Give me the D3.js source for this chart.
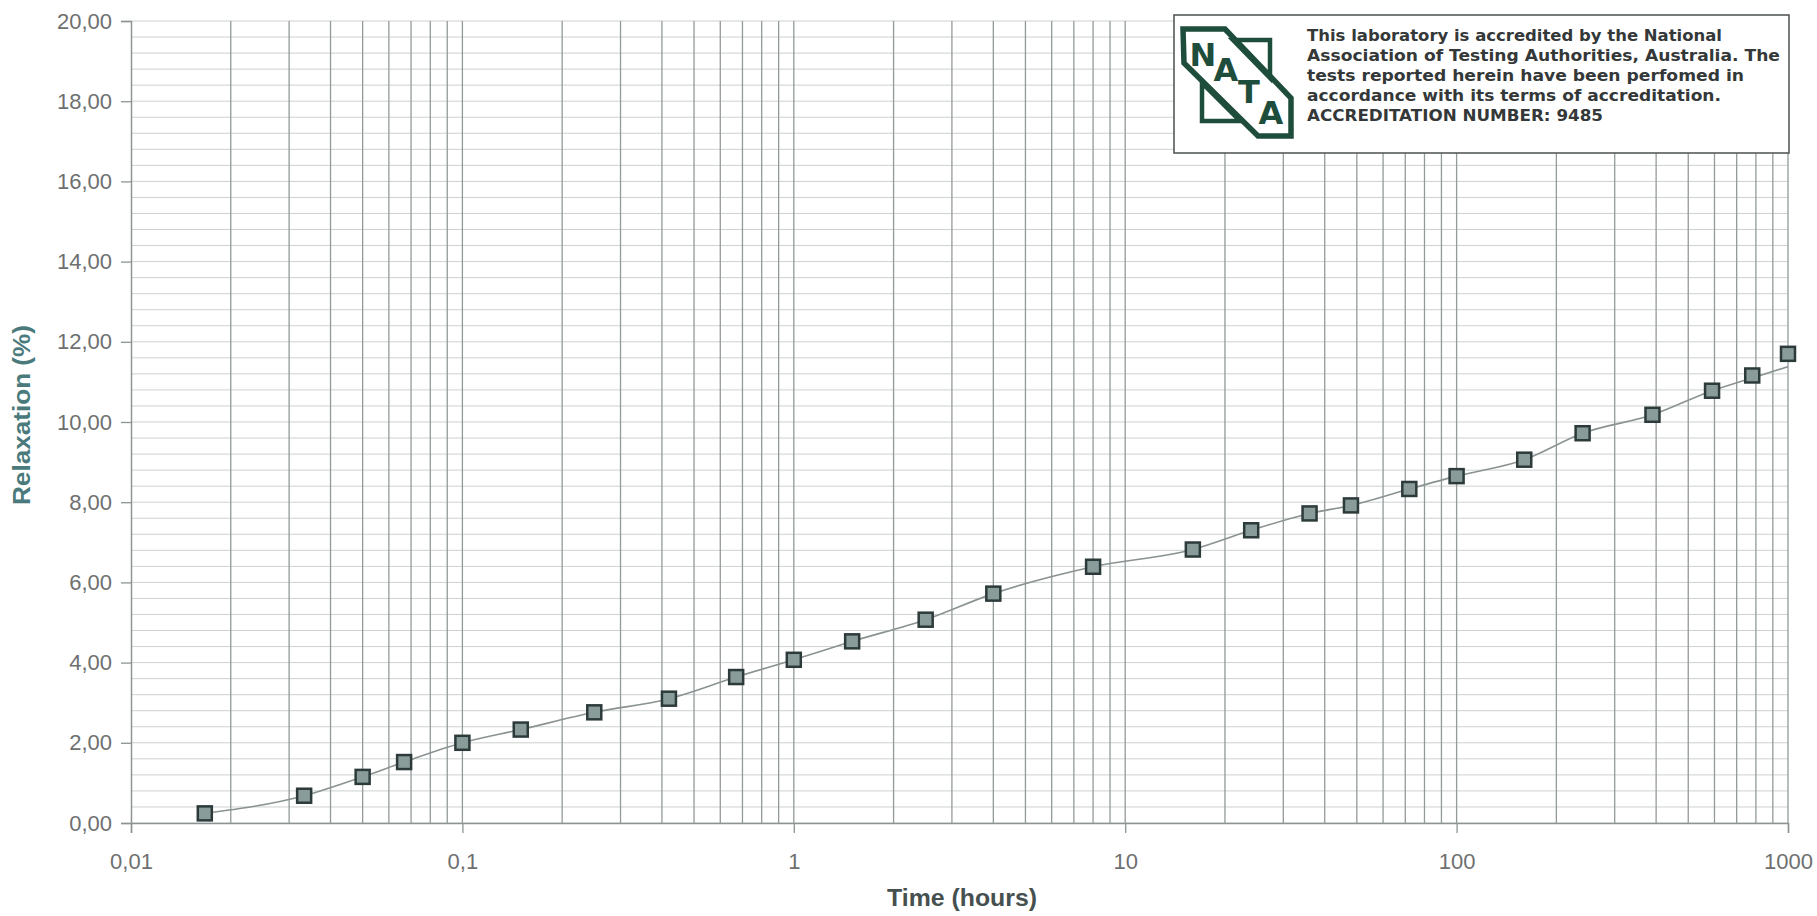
<!DOCTYPE html>
<html>
<head>
<meta charset="utf-8">
<script src="https://cdn.jsdelivr.net/npm/d3@7"></script>
<style>
  body { margin: 0; background: #fff; }
  svg { display: block; }
</style>
</head>
<body>
<div class="chart"></div>
<script>
// measured points (time in hours, relaxation in %)
const timeHours = [0.0167, 0.0333, 0.05, 0.0667, 0.1, 0.15, 0.25, 0.42, 0.67, 1, 1.5, 2.5, 4, 8,
                   16, 24, 36, 48, 72, 100, 160, 240, 390, 590, 780, 1000];
const relaxation = [0.24, 0.68, 1.15, 1.52, 2.00, 2.33, 2.76, 3.10, 3.64, 4.07, 4.53, 5.07, 5.72, 6.39,
                    6.82, 7.30, 7.72, 7.92, 8.33, 8.65, 9.06, 9.72, 10.18, 10.78, 11.16, 11.70];
// the drawn curve follows the points but ends a little under the last one
const curveRelax = [0.24, 0.68, 1.15, 1.52, 2.00, 2.33, 2.76, 3.10, 3.64, 4.07, 4.53, 5.07, 5.72, 6.39,
                    6.82, 7.30, 7.72, 7.92, 8.33, 8.65, 9.06, 9.72, 10.18, 10.78, 11.10, 11.38];

const xTicks = [0.01, 0.1, 1, 10, 100, 1000];
const xTickLabels = ["0,01", "0,1", "1", "10", "100", "1000"];
const yTicks = [0, 2, 4, 6, 8, 10, 12, 14, 16, 18, 20];
const yMinorStep = 0.4;

const noteLines = [
    "This laboratory is accredited by the National",
    "Association of Testing Authorities, Australia. The",
    "tests reported herein have been perfomed in",
    "accordance with its terms of accreditation.",
    "ACCREDITATION NUMBER: 9485"
];
const noteWidths = [415, 473, 437, 414, 296];
const logoLetters = ["N", "A", "T", "A"];

var margin = {top: 21, right: 29, bottom: 93, left: 131},
    W = 1817, H = 916,
    width = W - margin.left - margin.right,
    height = H - margin.top - margin.bottom;

var root = d3.select(".chart")
    .append("svg")
    .attr("width", W)
    .attr("height", H);

var svg = root.append("g")
    .attr("transform", "translate(" + margin.left + "," + margin.top + ")");

var x = d3.scaleLog()
    .domain([0.01, 1000])
    .range([0, width]);

var y = d3.scaleLinear()
    .domain([0, 20])
    .range([height, 0]);

// horizontal minor grid
var hLines = d3.range(0, 20 + 1e-6, yMinorStep);
svg.append("g")
    .selectAll("line")
    .data(hLines)
    .enter()
    .append("line")
    .attr("x1", 0)
    .attr("x2", width)
    .attr("y1", d => y(d))
    .attr("y2", d => y(d))
    .attr("stroke", "#cdd1d1")
    .attr("stroke-width", 1);

// vertical log grid (1..9 per decade)
svg.append("g")
    .selectAll("line")
    .data(x.ticks().filter(d => d > 0.01))
    .enter()
    .append("line")
    .attr("x1", d => x(d))
    .attr("x2", d => x(d))
    .attr("y1", 0)
    .attr("y2", height)
    .attr("stroke", "#939a9a")
    .attr("stroke-width", 1.3);

// axes
var yAxis = svg.append("g")
    .call(d3.axisLeft(y)
        .tickValues(yTicks)
        .tickSize(10)
        .tickPadding(9)
        .tickFormat(d => d.toFixed(2).replace(".", ",")));

var xAxis = svg.append("g")
    .attr("transform", "translate(0," + height + ")")
    .call(d3.axisBottom(x)
        .tickValues(xTicks)
        .tickSize(10)
        .tickPadding(20)
        .tickFormat((d, i) => xTickLabels[i]));

[xAxis, yAxis].forEach(a => {
    a.select(".domain").attr("stroke", "#8e9494").attr("stroke-width", 1.5);
    a.selectAll(".tick line").attr("stroke", "#8e9494").attr("stroke-width", 1.3);
    a.selectAll(".tick text")
        .attr("fill", "#6e7070")
        .style("font-family", "'Liberation Sans', Arial, sans-serif")
        .style("font-size", "22px");
});

// axis titles
root.append("text")
    .attr("transform", "translate(22,415) rotate(-90)")
    .attr("text-anchor", "middle")
    .attr("dy", "0.35em")
    .attr("textLength", 180)
    .attr("lengthAdjust", "spacingAndGlyphs")
    .attr("fill", "#4a7a7c")
    .style("font-family", "'Liberation Sans', Arial, sans-serif")
    .style("font-weight", "bold")
    .style("font-size", "24px")
    .text("Relaxation (%)");

root.append("text")
    .attr("x", 962)
    .attr("y", 906)
    .attr("text-anchor", "middle")
    .attr("textLength", 150)
    .attr("lengthAdjust", "spacingAndGlyphs")
    .attr("fill", "#46504f")
    .style("font-family", "'Liberation Sans', Arial, sans-serif")
    .style("font-weight", "bold")
    .style("font-size", "24px")
    .text("Time (hours)");

// series
var pts = timeHours.map((t, i) => ({t: t, v: relaxation[i], c: curveRelax[i]}));

svg.append("path")
    .datum(pts)
    .attr("fill", "none")
    .attr("stroke", "#8a9292")
    .attr("stroke-width", 1.6)
    .attr("d", d3.line()
        .curve(d3.curveMonotoneX)
        .x(d => x(d.t))
        .y(d => y(d.c)));

var ms = 14;
svg.append("g")
    .selectAll("rect")
    .data(pts)
    .enter()
    .append("rect")
    .attr("x", d => x(d.t) - ms / 2)
    .attr("y", d => y(d.v) - ms / 2)
    .attr("width", ms)
    .attr("height", ms)
    .attr("fill", "#8a9c9a")
    .attr("stroke", "#2c3b3a")
    .attr("stroke-width", 2.5);

// accreditation note
var note = root.append("g");
note.append("rect")
    .attr("x", 1174)
    .attr("y", 15)
    .attr("width", 615)
    .attr("height", 138)
    .attr("fill", "#fff")
    .attr("stroke", "#555a5a")
    .attr("stroke-width", 1.6);

var green = "#1f4d3c";
note.append("path")
    .attr("d", "M1183,29 L1225,29 L1291,98 L1291,136 L1258,136 L1184,63 Z")
    .attr("fill", "none")
    .attr("stroke", green)
    .attr("stroke-width", 5.5)
    .attr("stroke-linejoin", "miter");
note.append("path")
    .attr("d", "M1233,40 L1270,40 L1270,78 Z")
    .attr("fill", "none")
    .attr("stroke", green)
    .attr("stroke-width", 4.5);
note.append("path")
    .attr("d", "M1202,83 L1202,121 L1240,121 Z")
    .attr("fill", "none")
    .attr("stroke", green)
    .attr("stroke-width", 4.5);

var letterPos = [[1203, 66], [1226, 81], [1249, 103], [1271, 124]];
note.selectAll("text.logo")
    .data(logoLetters)
    .enter()
    .append("text")
    .attr("class", "logo")
    .attr("x", (d, i) => letterPos[i][0])
    .attr("y", (d, i) => letterPos[i][1])
    .attr("text-anchor", "middle")
    .attr("fill", green)
    .style("font-family", "'DejaVu Sans', sans-serif")
    .style("font-weight", "bold")
    .style("font-size", "32px")
    .text(d => d);

note.selectAll("text.line")
    .data(noteLines)
    .enter()
    .append("text")
    .attr("class", "line")
    .attr("x", 1307)
    .attr("y", (d, i) => 41 + i * 20)
    .attr("textLength", (d, i) => noteWidths[i])
    .attr("lengthAdjust", "spacingAndGlyphs")
    .attr("fill", "#343838")
    .style("font-family", "'DejaVu Sans', Verdana, sans-serif")
    .style("font-weight", "bold")
    .style("font-size", "16.5px")
    .text(d => d);
</script>
</body>
</html>
